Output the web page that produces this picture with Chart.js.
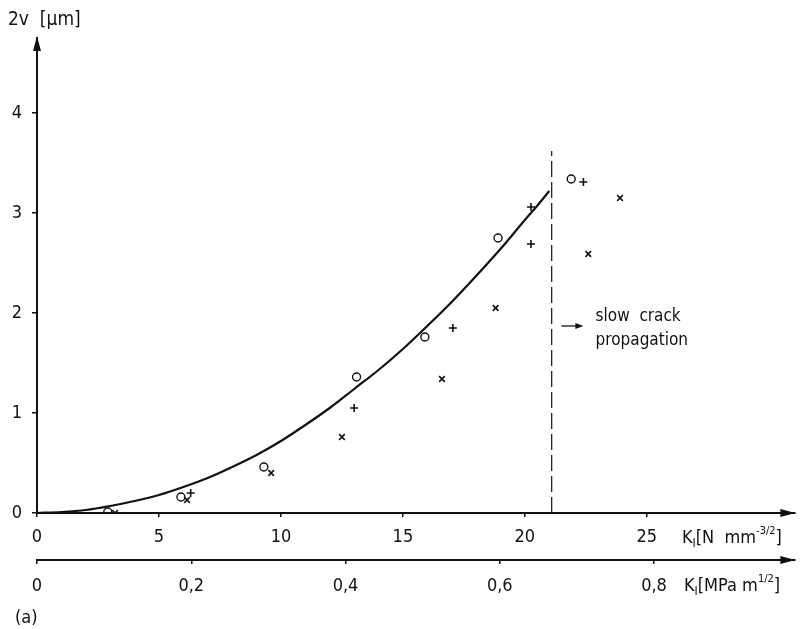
<!DOCTYPE html>
<html><head><meta charset="utf-8">
<script src="https://cdn.jsdelivr.net/npm/chart.js@4/dist/chart.umd.min.js"></script>
<style>html,body{margin:0;padding:0;background:#fff;}#wrap{width:800px;height:629px;}</style>
</head><body><div id="wrap"><canvas id="c" width="800" height="629"></canvas></div>
<script>
// ---- data ----
const xTicks = [0, 5, 10, 15, 20, 25];                 // K_I [N mm^-3/2]
const x2Ticks = [0, 0.2, 0.4, 0.6, 0.8];               // K_I [MPa m^1/2]
const x2Labels = ['0', '0,2', '0,4', '0,6', '0,8'];
const yTicks = [0, 1, 2, 3, 4];                        // 2v [µm]
const circleK = [2.9, 5.9, 9.3, 13.1, 15.9, 18.9, 21.9];
const circleV = [0.01, 0.16, 0.46, 1.36, 1.76, 2.75, 3.34];
const plusK = [6.3, 13.0, 17.05, 20.25, 20.25, 22.4];
const plusV = [0.20, 1.05, 1.85, 2.69, 3.06, 3.31];
const crossK = [3.2, 6.15, 9.6, 12.5, 16.6, 18.8, 22.6, 23.9];
const crossV = [0.0, 0.13, 0.40, 0.76, 1.34, 2.05, 2.59, 3.15];
const curveK = [0, 1, 2, 3, 4, 5, 6, 7, 8, 9, 10, 11, 12, 13, 14, 15, 16, 17, 18, 19, 20, 20.5, 21];
const curveV = [0, 0.01, 0.03, 0.07, 0.12, 0.18, 0.26, 0.35, 0.46, 0.58, 0.72, 0.88, 1.05, 1.24, 1.43, 1.64, 1.87, 2.11, 2.37, 2.64, 2.93, 3.07, 3.22];
const slowK = [21.1, 21.1];
const slowV = [0, 3.62];
const X_MAX = 31.05;           // N mm^-3/2 at the arrow tip
const MPA_PER_N = 1 / 31.62;   // unit conversion for the second axis
const Y_MAX = 4.75;

const INK = '#111';
const FONT = '"DejaVu Sans Condensed", "Liberation Sans Narrow", "DejaVu Sans", sans-serif';
const pts = (xs, ys) => xs.map((x, i) => ({x, y: ys[i]}));

const deco = {
  id: 'deco',
  afterDraw(chart) {
    const {ctx, chartArea: ca, scales} = chart;
    const xs = scales.x, ys = scales.y, x2 = scales.x2;
    ctx.save();
    ctx.fillStyle = INK; ctx.strokeStyle = INK;
    const arrow = (tx, ty, dir) => {
      ctx.beginPath();
      if (dir === 'up') { ctx.moveTo(tx, ty); ctx.lineTo(tx - 4, ty + 15); ctx.lineTo(tx + 4, ty + 15); }
      else { ctx.moveTo(tx, ty); ctx.lineTo(tx - 15, ty - 4); ctx.lineTo(tx - 15, ty + 4); }
      ctx.closePath(); ctx.fill();
    };
    arrow(ca.left, ca.top - 2, 'up');
    arrow(ca.right + 1, xs.top, 'right');
    arrow(ca.right + 1, x2.top, 'right');

    const rich = (x, y, parts) => {
      ctx.textBaseline = 'middle'; ctx.textAlign = 'left';
      for (const p of parts) {
        ctx.font = p.s + 'px ' + FONT;
        ctx.fillText(p.t, x, y + (p.dy || 0));
        x += ctx.measureText(p.t).width + (p.gap || 0);
      }
    };
    rich(682, xs.top + 25, [{t: 'K', s: 18}, {t: 'I', s: 12, dy: 6}, {t: '[N  mm', s: 18}, {t: '-3/2', s: 11, dy: -7}, {t: ']', s: 18}]);
    rich(684, x2.top + 26, [{t: 'K', s: 18}, {t: 'I', s: 12, dy: 6}, {t: '[MPa m', s: 18}, {t: '1/2', s: 11, dy: -7}, {t: ']', s: 18}]);
    rich(8, 20, [{t: '2v  [µm]', s: 19}]);
    rich(15, 618, [{t: '(a)', s: 18}]);

    const ax0 = xs.getPixelForValue(21.5), ax1 = xs.getPixelForValue(22.4), ay = ys.getPixelForValue(1.87);
    ctx.lineWidth = 1.3;
    ctx.beginPath(); ctx.moveTo(ax0, ay); ctx.lineTo(ax1 - 5, ay); ctx.stroke();
    ctx.beginPath(); ctx.moveTo(ax1, ay); ctx.lineTo(ax1 - 8, ay - 3); ctx.lineTo(ax1 - 8, ay + 3); ctx.closePath(); ctx.fill();
    rich(xs.getPixelForValue(22.9), ys.getPixelForValue(1.96), [{t: 'slow  crack', s: 17}]);
    rich(xs.getPixelForValue(22.9), ys.getPixelForValue(1.72), [{t: 'propagation', s: 17}]);
    ctx.restore();
  }
};

const tickFont = {family: FONT, size: 18};
new Chart(document.getElementById('c'), {
  type: 'scatter',
  data: {
    datasets: [
      {type: 'line', data: pts(curveK, curveV), borderColor: INK, borderWidth: 2.2, pointRadius: 0, cubicInterpolationMode: 'monotone', fill: false},
      {type: 'line', data: pts(slowK, slowV), borderColor: INK, borderWidth: 1.2, borderDash: [16, 5], pointRadius: 0, fill: false},
      {data: pts(circleK, circleV), pointStyle: 'circle', pointRadius: 4, borderColor: INK, backgroundColor: 'rgba(255,255,255,0)', borderWidth: 1.4},
      {data: pts(plusK, plusV), pointStyle: 'cross', pointRadius: 4, borderColor: INK, borderWidth: 1.6},
      {data: pts(crossK, crossV), pointStyle: 'crossRot', pointRadius: 4, borderColor: INK, borderWidth: 1.6}
    ]
  },
  options: {
    responsive: false, animation: false, devicePixelRatio: 1,
    layout: {padding: {top: 38, right: 3, left: 0, bottom: 0}},
    plugins: {legend: {display: false}, tooltip: {enabled: false}},
    scales: {
      x: {
        type: 'linear', position: 'bottom', weight: 0, min: 0, max: X_MAX,
        afterBuildTicks: s => { s.ticks = xTicks.map(v => ({value: v})); },
        afterFit: s => { s.height = 47; },
        ticks: {font: tickFont, color: INK, padding: 10, autoSkip: false, maxRotation: 0},
        grid: {drawOnChartArea: false, drawTicks: true, tickLength: 4, color: INK, lineWidth: 1.5},
        border: {color: INK, width: 2}
      },
      x2: {
        type: 'linear', position: 'bottom', weight: 1, min: 0, max: X_MAX * MPA_PER_N,
        afterBuildTicks: s => { s.ticks = x2Ticks.map(v => ({value: v})); },
        afterFit: s => { s.height = 69; },
        ticks: {font: tickFont, color: INK, padding: 12, autoSkip: false, maxRotation: 0,
          callback: (v) => { const i = x2Ticks.findIndex(t => Math.abs(t - v) < 1e-9); return i >= 0 ? x2Labels[i] : ''; }},
        grid: {drawOnChartArea: false, drawTicks: true, tickLength: 4, color: INK, lineWidth: 1.5},
        border: {color: INK, width: 2}
      },
      y: {
        type: 'linear', min: 0, max: Y_MAX,
        afterBuildTicks: s => { s.ticks = yTicks.map(v => ({value: v})); },
        afterFit: s => { s.width = 37; },
        ticks: {font: tickFont, color: INK, padding: 10, autoSkip: false},
        grid: {drawOnChartArea: false, drawTicks: true, tickLength: 5, color: INK, lineWidth: 1.5},
        border: {color: INK, width: 2}
      }
    }
  },
  plugins: [deco]
});
</script></body></html>
